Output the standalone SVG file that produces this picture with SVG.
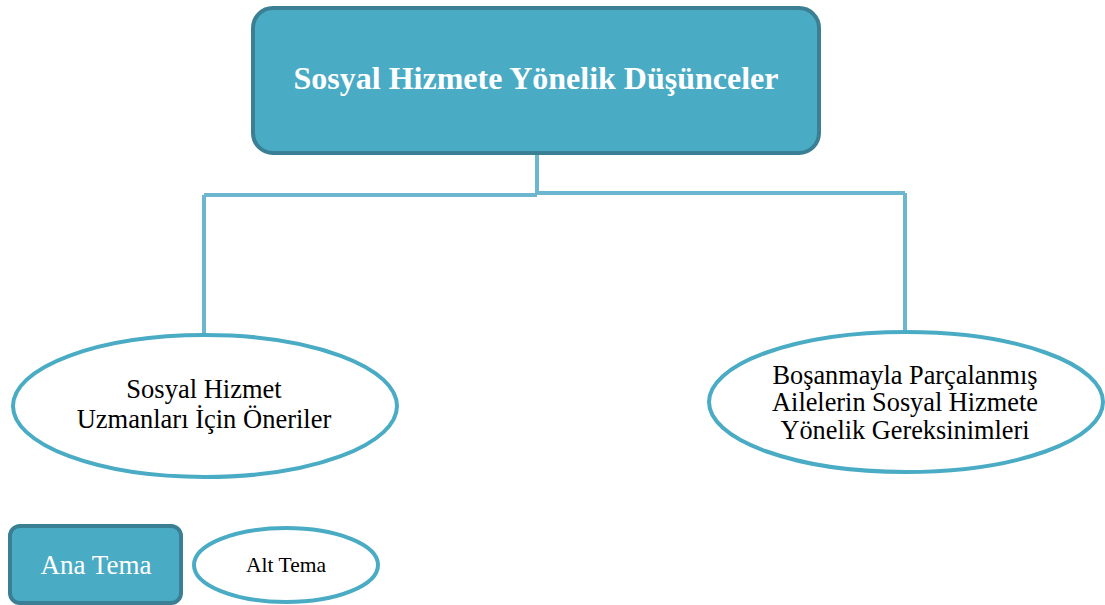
<svg xmlns="http://www.w3.org/2000/svg" width="1105" height="605" viewBox="0 0 1105 605">
<style>
.main{fill:#4aabc5;stroke:#3a7f93;stroke-width:4}
.sub{fill:#fff;stroke:#4aabc5;stroke-width:4}
.conn{fill:none;stroke:#6db6d0;stroke-width:4}
.wt{fill:#fff}
.bt{fill:#000}
</style>
<rect width="1105" height="605" fill="#fff"/>
<g id="connectors">
<path class="conn" d="M537 153 V194 M204 195 H537 M537 193 H905 M204 195 V333 M905 193 V332"/>
</g>
<g font-family="Liberation Serif, Tinos, DejaVu Serif, serif" text-anchor="middle">
<g id="main">
<rect class="main" x="253" y="8" width="566" height="145" rx="20"/>
<text class="wt" x="536" y="89" font-size="32" font-weight="bold">Sosyal Hizmete Yönelik Düşünceler</text>
</g>
<g id="sub1">
<ellipse class="sub" cx="205" cy="406" rx="192" ry="71"/>
<text class="bt" x="204" y="398" font-size="26.5">Sosyal Hizmet</text>
<text class="bt" x="204" y="428" font-size="26.5">Uzmanları İçin Öneriler</text>
</g>
<g id="sub2">
<ellipse class="sub" cx="906" cy="402" rx="197" ry="70"/>
<text class="bt" x="905" y="384" font-size="26.3">Boşanmayla Parçalanmış</text>
<text class="bt" x="905" y="411" font-size="26.3">Ailelerin Sosyal Hizmete</text>
<text class="bt" x="905" y="439" font-size="26.3">Yönelik Gereksinimleri</text>
</g>
<g id="legend-main">
<rect class="main" x="10" y="526" width="171" height="77" rx="10"/>
<text class="wt" x="96" y="574" font-size="27">Ana Tema</text>
</g>
<g id="legend-sub">
<ellipse class="sub" cx="286" cy="565" rx="92" ry="37"/>
<text class="bt" x="286" y="572" font-size="21.5">Alt Tema</text>
</g>
</g>
</svg>
